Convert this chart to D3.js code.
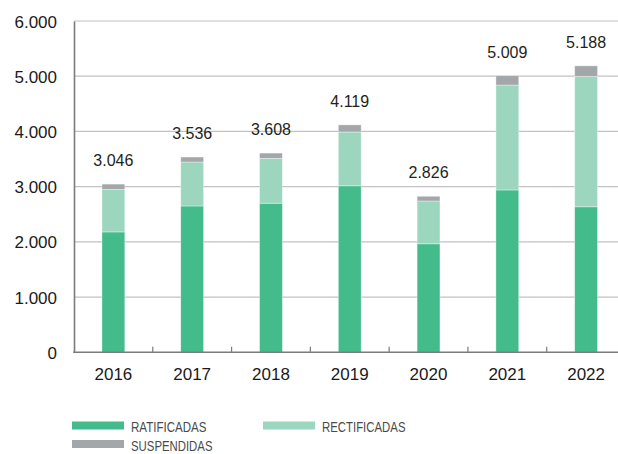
<!DOCTYPE html>
<html><head><meta charset="utf-8">
<script src="https://cdn.jsdelivr.net/npm/d3@7"></script>
<style>
html,body{margin:0;padding:0;background:#fff;}
svg{display:block;}
</style></head>
<body>
<svg id="chart" width="618" height="454"></svg>
<script>
const years = ["2016","2017","2018","2019","2020","2021","2022"];
const ratificadas = [2180, 2650, 2700, 3015, 1965, 2940, 2635];
const rectificadas = [770, 796, 813, 975, 775, 1900, 2363];
const suspendidas = [96, 90, 95, 129, 86, 169, 190];
const totals = [3046, 3536, 3608, 4119, 2826, 5009, 5188];
const seriesNames = ["RATIFICADAS", "RECTIFICADAS", "SUSPENDIDAS"];
const seriesColors = ["#43bb8a", "#9dd6bf", "#a4a7a9"];
const yTicks = [0, 1000, 2000, 3000, 4000, 5000, 6000];

const svg = d3.select("#chart");
const fmt = v => d3.format(",")(v).replace(/,/g, ".");

const x = d3.scaleBand().domain(years).range([74, 625.5]).paddingInner(0.71).paddingOuter(0.355);
const y = d3.scaleLinear().domain([0, 6000]).range([352.3, 21]);

// gridlines
svg.append("g").selectAll("line").data(yTicks.filter(d => d > 0)).join("line")
  .attr("x1", 74).attr("x2", 618)
  .attr("y1", d => y(d)).attr("y2", d => y(d))
  .attr("stroke", "#c2c2c2").attr("stroke-width", 1.2);

// stacked bars
const rows = years.map((yr, i) => ({year: yr, RATIFICADAS: ratificadas[i], RECTIFICADAS: rectificadas[i], SUSPENDIDAS: suspendidas[i]}));
const stack = d3.stack().keys(seriesNames)(rows);
svg.append("g").selectAll("g").data(stack).join("g")
  .attr("fill", (d, i) => seriesColors[i])
  .selectAll("rect").data(d => d).join("rect")
  .attr("x", d => x(d.data.year))
  .attr("width", x.bandwidth())
  .attr("y", d => y(d[1]))
  .attr("height", d => y(d[0]) - y(d[1]))
  .attr("stroke", "rgba(255,255,255,0.45)").attr("stroke-width", 0.8);

// total labels
svg.append("g").selectAll("text").data(years).join("text")
  .attr("x", d => x(d) + x.bandwidth() / 2)
  .attr("y", (d, i) => y(totals[i]) - 18)
  .attr("text-anchor", "middle")
  .attr("font-family", "Liberation Sans, Arial, sans-serif")
  .attr("font-size", 16).attr("fill", "#231f20")
  .text((d, i) => fmt(totals[i]));

// y axis
const yAxis = svg.append("g").attr("transform", "translate(74,0)")
  .call(d3.axisLeft(y).tickValues(yTicks).tickSize(0).tickPadding(17).tickFormat(fmt));
yAxis.select(".domain").attr("stroke", "#7a7a7a").attr("stroke-width", 1.6);
yAxis.selectAll("text").attr("font-family", "Liberation Sans, Arial, sans-serif")
  .attr("font-size", 17).attr("fill", "#1a1a1a").attr("dy", "0.36em");

// x axis
const xAxis = svg.append("g").attr("transform", "translate(0,352.3)");
xAxis.append("line").attr("x1", 73.2).attr("x2", 618).attr("y1", 0).attr("y2", 0)
  .attr("stroke", "#7a7a7a").attr("stroke-width", 1.6);
const bandStep = x.step();
xAxis.selectAll("line.tick").data(years.slice(1)).join("line").attr("class", "tick")
  .attr("x1", d => x(d) - (bandStep - x.bandwidth()) / 2)
  .attr("x2", d => x(d) - (bandStep - x.bandwidth()) / 2)
  .attr("y1", 0).attr("y2", -5.5)
  .attr("stroke", "#7a7a7a").attr("stroke-width", 1.2);
xAxis.selectAll("text").data(years).join("text")
  .attr("x", d => x(d) + x.bandwidth() / 2)
  .attr("y", 28)
  .attr("text-anchor", "middle")
  .attr("font-family", "Liberation Sans, Arial, sans-serif")
  .attr("font-size", 17).attr("fill", "#1a1a1a")
  .text(d => d);

// legend
const legendPos = [[72, 421.5], [263, 421.5], [72, 440]];
const legendWidths = [75.5, 83.5, 81.5];
const lg = svg.append("g").selectAll("g").data(seriesNames).join("g")
  .attr("transform", (d, i) => `translate(${legendPos[i][0]},${legendPos[i][1]})`);
lg.append("rect").attr("width", 52).attr("height", 8).attr("fill", (d, i) => seriesColors[i]);
lg.append("text").attr("x", 59).attr("y", 10.6)
  .attr("font-family", "Liberation Sans, Arial, sans-serif")
  .attr("font-size", 15).attr("fill", "#4a4a4a")
  .attr("textLength", (d, i) => legendWidths[i])
  .attr("lengthAdjust", "spacingAndGlyphs")
  .text(d => d);
</script>
</body></html>
